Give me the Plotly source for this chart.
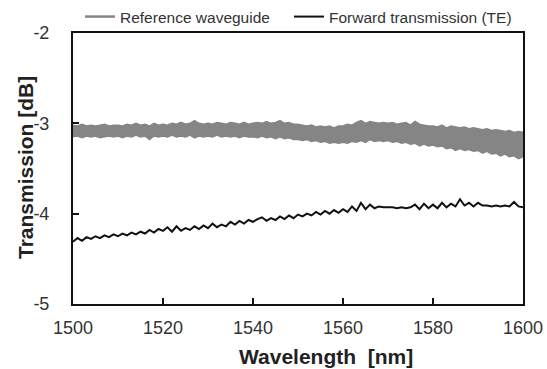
import plotly.graph_objects as go

wavelength = list(range(1500, 1601))

# upper and lower edges of the grey (reference waveguide) ripple band
reference_upper = [
    -3.02, -3.03, -3.01, -3.03, -3.02, -3.03, -3.02, -3.01, -3.03, -3.02,
    -3.02, -3.03, -3.01, -3.02, -3.00, -3.02, -3.01, -3.03, -3.00, -3.02,
    -3.01, -3.02, -3.00, -3.01, -2.99, -3.01, -3.00, -2.97, -3.00, -3.01,
    -3.00, -3.01, -2.99, -3.00, -3.01, -2.99, -3.00, -3.01, -2.99, -3.01,
    -3.00, -2.99, -3.00, -2.98, -3.00, -2.99, -2.97, -3.00, -2.99, -3.01,
    -3.01, -3.02, -3.03, -3.02, -3.04, -3.03, -3.04, -3.03, -3.05, -3.03,
    -3.03, -3.01, -3.02, -2.99, -2.97, -3.00, -2.98, -2.99, -3.00, -2.99,
    -3.00, -2.99, -3.01, -3.00, -2.99, -3.02, -2.98, -3.01, -3.02, -3.03,
    -3.03, -3.04, -3.02, -3.05, -3.03, -3.04, -3.05, -3.04, -3.06, -3.05,
    -3.06, -3.07, -3.06, -3.08, -3.07, -3.08, -3.09, -3.08, -3.10, -3.09,
    -3.10,
]

reference_lower = [
    -3.15, -3.14, -3.16, -3.14, -3.15, -3.14, -3.16, -3.15, -3.14, -3.15,
    -3.14, -3.16, -3.14, -3.15, -3.13, -3.15, -3.14, -3.18, -3.14, -3.15,
    -3.14, -3.15, -3.13, -3.15, -3.14, -3.15, -3.13, -3.16, -3.14, -3.15,
    -3.14, -3.15, -3.13, -3.15, -3.14, -3.15, -3.14, -3.16, -3.14, -3.15,
    -3.15, -3.16, -3.14, -3.16, -3.15, -3.17, -3.15, -3.17, -3.16, -3.18,
    -3.18, -3.19, -3.18, -3.20, -3.19, -3.21, -3.20, -3.22, -3.21, -3.22,
    -3.21, -3.22, -3.20, -3.21, -3.19, -3.21, -3.18, -3.20, -3.19, -3.20,
    -3.19, -3.21, -3.20, -3.22, -3.21, -3.23, -3.22, -3.25, -3.23, -3.25,
    -3.24, -3.26, -3.25, -3.28, -3.27, -3.30, -3.28, -3.30, -3.29, -3.31,
    -3.30, -3.33, -3.31, -3.34, -3.33, -3.36, -3.34, -3.37, -3.36, -3.39,
    -3.37,
]

forward_te = [
    -4.31, -4.27, -4.30, -4.26, -4.28, -4.25, -4.27, -4.24, -4.26, -4.23,
    -4.25, -4.22, -4.24, -4.21, -4.23, -4.20, -4.22, -4.18, -4.21, -4.17,
    -4.19, -4.15, -4.20, -4.14, -4.19, -4.16, -4.18, -4.14, -4.17, -4.13,
    -4.16, -4.11, -4.15, -4.12, -4.14, -4.09, -4.12, -4.08, -4.11, -4.07,
    -4.09, -4.06, -4.04, -4.08, -4.05, -4.07, -4.03, -4.06, -4.02, -4.05,
    -4.01, -4.03, -4.00, -4.02, -3.98, -4.01, -3.97, -4.00, -3.96, -3.99,
    -3.95, -3.98, -3.92, -3.97, -3.88, -3.95, -3.90, -3.94, -3.92, -3.93,
    -3.93, -3.93, -3.94, -3.93, -3.94, -3.93, -3.90, -3.95, -3.89, -3.94,
    -3.90, -3.94, -3.88, -3.93, -3.89, -3.92, -3.84, -3.91, -3.88, -3.92,
    -3.88, -3.91, -3.91, -3.92, -3.91, -3.92, -3.91, -3.92, -3.87, -3.92,
    -3.93,
]

series_names = ["Reference waveguide", "Forward transmission (TE)"]
series_colors = ["#858585", "#111111"]

x_ticks = [1500, 1520, 1540, 1560, 1580, 1600]
y_ticks = [-5, -4, -3, -2]
y_tick_labels = ["-5", "-4", "-3", "-2"]

FONT = "Liberation Sans, Arial, sans-serif"

fig = go.Figure()
fig.add_trace(go.Scatter(
    x=wavelength, y=reference_upper, mode="lines",
    name=series_names[0], showlegend=False,
    line=dict(color=series_colors[0], width=1.5, simplify=False),
))
fig.add_trace(go.Scatter(
    x=wavelength, y=reference_lower, mode="lines",
    name=series_names[0], showlegend=False,
    fill="tonexty", fillcolor=series_colors[0],
    line=dict(color=series_colors[0], width=1.5, simplify=False),
))
fig.add_trace(go.Scatter(
    x=wavelength, y=forward_te, mode="lines",
    name=series_names[1], showlegend=False,
    line=dict(color=series_colors[1], width=2, simplify=False),
))
# legend entries with thin line keys
fig.add_trace(go.Scatter(
    x=[None], y=[None], mode="lines", name=series_names[0],
    line=dict(color=series_colors[0], width=2.5), legend="legend",
))
fig.add_trace(go.Scatter(
    x=[None], y=[None], mode="lines", name=series_names[1],
    line=dict(color=series_colors[1], width=2), legend="legend2",
))

axis_common = dict(
    showline=True, linecolor="#111111", linewidth=2, mirror=True,
    ticks="inside", ticklen=6, tickwidth=2, tickcolor="#111111",
    showgrid=False, zeroline=False, automargin=False,
    tickfont=dict(family=FONT, size=18, color="#333333"),
)

# paper area spans 0..304 px vertically (t=0, b=65); axes occupy 33..304 px
PAPER_H = 304.0
legend_common = dict(
    orientation="h", y=1.0, xanchor="left", yanchor="top",
    font=dict(family=FONT, size=15.5, color="#333333"),
    itemwidth=30, bgcolor="rgba(0,0,0,0)",
)

fig.update_layout(
    width=547, height=369,
    margin=dict(l=73, r=24, t=0, b=65),
    paper_bgcolor="white", plot_bgcolor="white",
    showlegend=True,
    legend=dict(x=7 / 450, **legend_common),
    legend2=dict(x=216 / 450, **legend_common),
    xaxis=dict(
        range=[1500, 1600], tickvals=x_ticks,
        ticklabelstandoff=6,
        **axis_common,
    ),
    yaxis=dict(
        range=[-5, -2], tickvals=y_ticks, ticktext=y_tick_labels,
        domain=[0, 271 / PAPER_H],
        ticklabelstandoff=18,
        **axis_common,
    ),
    annotations=[
        dict(text="<b>Wavelength  [nm]</b>", xref="paper", yref="paper",
             x=0.563, y=-52 / PAPER_H, xanchor="center", yanchor="middle",
             showarrow=False,
             font=dict(family=FONT, size=21, color="#222222")),
        dict(text="<b>Transmission [dB]</b>", xref="paper", yref="paper",
             x=-47 / 450, y=136 / PAPER_H, xanchor="center", yanchor="middle",
             textangle=-90, showarrow=False,
             font=dict(family=FONT, size=21, color="#222222")),
    ],
)

fig.write_html("out.html")
